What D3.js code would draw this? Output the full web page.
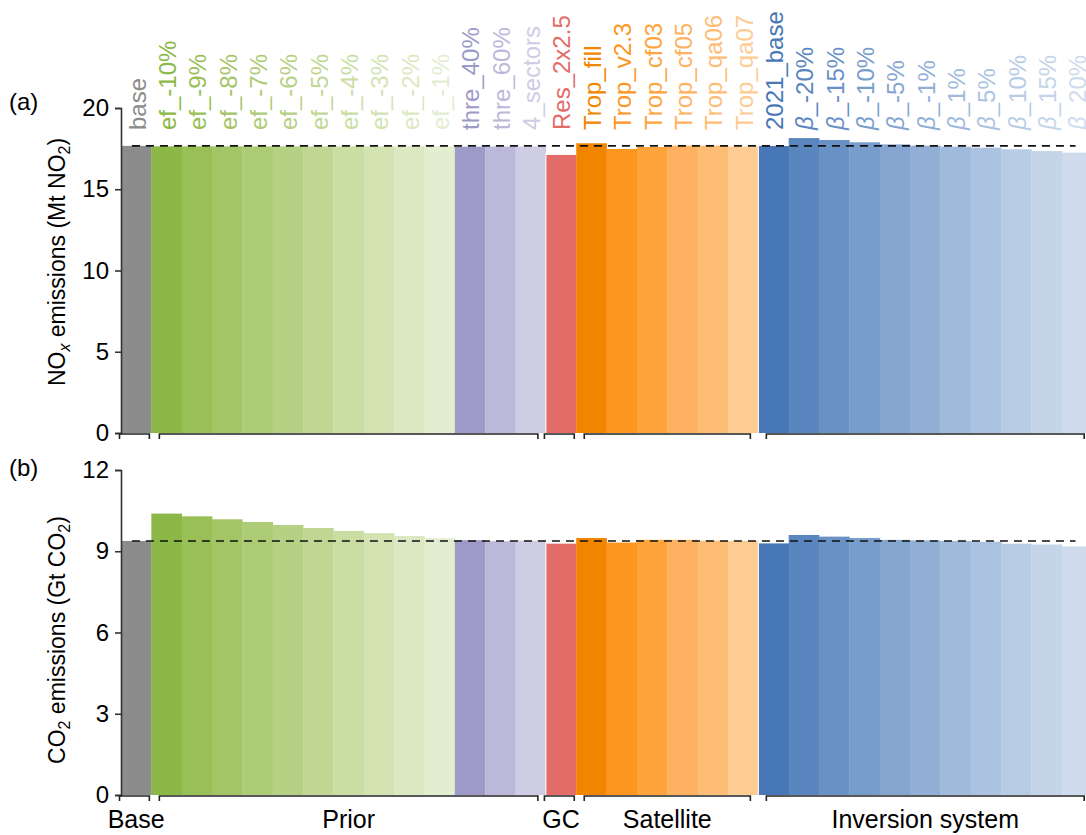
<!DOCTYPE html>
<html>
<head>
<meta charset="utf-8">
<script src="https://cdn.jsdelivr.net/npm/d3@7"></script>
<style>
  html, body { margin: 0; padding: 0; background: #fff; }
  svg { display: block; font-family: "Liberation Sans", Arial, sans-serif; }
</style>
</head>
<body>
<svg id="chart" width="1086" height="835"></svg>
<script>
// Experiment names (top labels), one per bar
const runs = [
  "base",
  "ef_-10%", "ef_-9%", "ef_-8%", "ef_-7%", "ef_-6%", "ef_-5%", "ef_-4%", "ef_-3%", "ef_-2%", "ef_-1%",
  "thre_40%", "thre_60%", "4_sectors",
  "Res_2x2.5",
  "Trop_fill", "Trop_v2.3", "Trop_cf03", "Trop_cf05", "Trop_qa06", "Trop_qa07",
  "2021_base",
  "β_-20%", "β_-15%", "β_-10%", "β_-5%", "β_-1%", "β_1%", "β_5%", "β_10%", "β_15%", "β_20%"
];

// NOx emissions (Mt NO2)
const noxValues = [
  17.67,
  17.64, 17.64, 17.64, 17.64, 17.64, 17.64, 17.64, 17.64, 17.64, 17.64,
  17.62, 17.63, 17.63,
  17.11,
  17.83, 17.48, 17.60, 17.68, 17.68, 17.63,
  17.66,
  18.15, 18.03, 17.89, 17.76, 17.68, 17.62, 17.56, 17.46, 17.35, 17.25
];

// CO2 emissions (Gt CO2)
const co2Values = [
  9.38,
  10.39, 10.29, 10.18, 10.08, 9.97, 9.86, 9.75, 9.67, 9.56, 9.48,
  9.41, 9.37, 9.39,
  9.28,
  9.49, 9.32, 9.42, 9.42, 9.39, 9.38,
  9.29,
  9.60, 9.54, 9.49, 9.42, 9.40, 9.38, 9.35, 9.28, 9.25, 9.18
];

// Bar / label colours
const runColors = [
  "#8c8c8c",
  "#8cb847", "#99bf57", "#a4c566", "#aecc75", "#b7d184", "#c0d793", "#cadea3", "#d3e3b2", "#dbe8c1", "#e3edd0",
  "#9e9ac8", "#bcb8da", "#cfcde4",
  "#e46c68",
  "#f28500", "#fd961f", "#fea43b", "#feb261", "#febd74", "#fecb93",
  "#4777b7",
  "#5a86c0", "#6891c6", "#779dcc", "#85a6d1", "#91afd5", "#9fbadb", "#abc3e0", "#b8cce5", "#c4d5ea", "#d0dcee"
];

// Category groups along the x axis: name, first bar, last bar
const groupNames = ["Base", "Prior", "GC", "Satellite", "Inversion system"];
const groupFirst = [0, 1, 14, 15, 21];
const groupLast  = [0, 13, 14, 20, 31];

// Axis ticks
const noxTicks = [0, 5, 10, 15, 20];
const co2Ticks = [0, 3, 6, 9, 12];

const svg = d3.select("#chart");
const FONT = 24;

const x = d3.scaleBand()
  .domain(d3.range(runs.length))
  .range([121, 121 + runs.length * 30.35])
  .paddingInner(0).paddingOuter(0);
const bw = x.bandwidth();

const panels = [
  { tag: "(a)", values: noxValues, ticks: noxTicks, max: 20, top: 108, bottom: 433,
    tagY: 110, titleY: 262, title: "nox", showRunLabels: true, showGroupLabels: false },
  { tag: "(b)", values: co2Values, ticks: co2Ticks, max: 12, top: 470, bottom: 795,
    tagY: 476, titleY: 640, title: "co2", showRunLabels: false, showGroupLabels: true }
];

panels.forEach(p => {
  const y = d3.scaleLinear().domain([0, p.max]).range([p.bottom, p.top]);
  const g = svg.append("g");

  // bars
  g.selectAll("rect.bar")
    .data(p.values)
    .join("rect")
    .attr("class", "bar")
    .attr("x", (d, i) => x(i))
    .attr("width", bw + 0.3)
    .attr("y", d => y(d))
    .attr("height", d => y(0) - y(d))
    .attr("fill", (d, i) => runColors[i]);

  // white seams between model-setup groups
  [14, 21].forEach(i => {
    g.append("line")
      .attr("x1", x(i)).attr("x2", x(i))
      .attr("y1", y(p.values[i]) - 2).attr("y2", y(0))
      .attr("stroke", "#fff").attr("stroke-width", 1);
  });

  // reference line at the base run
  g.append("line")
    .attr("x1", x(0) + bw * 0.36)
    .attr("x2", x(runs.length - 1) + bw * 0.45)
    .attr("y1", y(p.values[0])).attr("y2", y(p.values[0]))
    .attr("stroke", "#111").attr("stroke-width", 1.6)
    .attr("stroke-dasharray", "8,6");

  // y axis
  const axis = g.append("g")
    .attr("transform", `translate(${x.range()[0]},0)`)
    .call(d3.axisLeft(y).tickValues(p.ticks).tickSizeOuter(0).tickSize(6).tickPadding(6));
  axis.select(".domain").attr("stroke", "#333").attr("stroke-width", 1.6);
  axis.selectAll(".tick line").attr("stroke", "#333").attr("stroke-width", 1.6);
  axis.selectAll(".tick text")
    .attr("font-size", FONT).attr("fill", "#000")
    .attr("font-family", "Liberation Sans, Arial, sans-serif");

  // group brackets on the x axis
  groupNames.forEach((name, k) => {
    const single = groupFirst[k] === groupLast[k];
    const x0 = x(groupFirst[k]) + (single ? -1.5 : 8);
    const x1 = x(groupLast[k]) + bw - (single ? 2 : 8);
    const yb = y(0) + 1;
    g.append("path")
      .attr("d", `M${x0},${yb + 5}V${yb}H${x1}V${yb + 5}`)
      .attr("fill", "none").attr("stroke", "#222").attr("stroke-width", 1.6);
    if (p.showGroupLabels) {
      g.append("text")
        .attr("x", (x(groupFirst[k]) + x(groupLast[k]) + bw) / 2)
        .attr("y", 828)
        .attr("text-anchor", "middle")
        .attr("font-size", 25)
        .attr("fill", "#000")
        .text(name);
    }
  });

  // panel tag
  g.append("text")
    .attr("x", 9).attr("y", p.tagY)
    .attr("font-size", FONT).attr("fill", "#000")
    .text(p.tag);

  // y axis title with subscripts
  const t = g.append("text")
    .attr("transform", `translate(57,${p.titleY}) rotate(-90)`)
    .attr("text-anchor", "middle")
    .attr("dy", "0.35em")
    .attr("font-size", 23)
    .attr("fill", "#000");
  const sub = (txt, italic) => {
    t.append("tspan").attr("dy", "0.3em").attr("font-size", 16)
      .attr("font-style", italic ? "italic" : null).text(txt);
  };
  if (p.title === "nox") {
    t.append("tspan").text("NO");
    sub("x", true);
    t.append("tspan").attr("dy", "-0.21em").text(" emissions (Mt NO");
    sub("2", false);
    t.append("tspan").attr("dy", "-0.21em").text(")");
  } else {
    t.append("tspan").text("CO");
    sub("2", false);
    t.append("tspan").attr("dy", "-0.21em").text(" emissions (Gt CO");
    sub("2", false);
    t.append("tspan").attr("dy", "-0.21em").text(")");
  }

  // rotated run labels above panel (a)
  if (p.showRunLabels) {
    runs.forEach((name, i) => {
      const lab = g.append("text")
        .attr("transform", `translate(${x(i) + bw / 2 + 1},130) rotate(-90)`)
        .attr("text-anchor", "start")
        .attr("dy", "0.35em")
        .attr("font-size", FONT)
        .attr("fill", runColors[i]);
      if (name.startsWith("β")) {
        lab.append("tspan").attr("font-style", "italic").text("β");
        lab.append("tspan").text(name.slice(1));
      } else {
        lab.text(name);
      }
    });
  }
});
</script>
</body>
</html>
